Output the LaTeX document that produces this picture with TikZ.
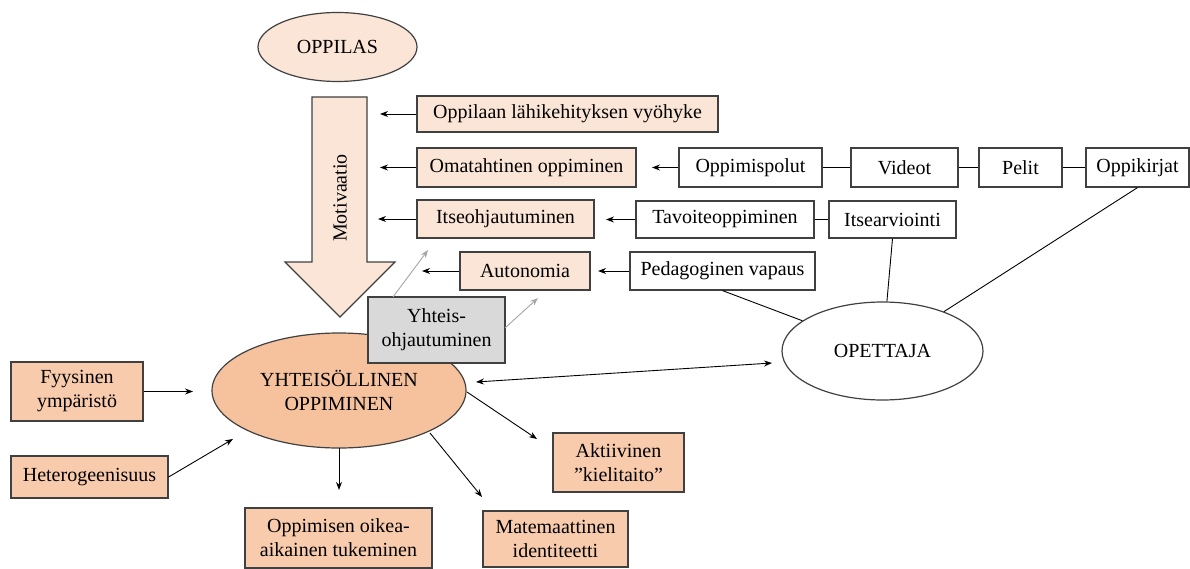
\documentclass[tikz,border=0pt]{standalone}
\usepackage{fontspec}
\setmainfont{Liberation Serif}
\usetikzlibrary{shapes.geometric,arrows.meta}
\definecolor{lightpeach}{HTML}{FBE5D6}
\definecolor{peach}{HTML}{F8CBAD}
\definecolor{ellpeach}{HTML}{F6C19D}
\definecolor{graybox}{HTML}{D9D9D9}
\definecolor{edgecol}{HTML}{404040}
\definecolor{grayarrow}{HTML}{A6A6A6}
\begin{document}
\begin{tikzpicture}[x=1pt,y=-1pt,
  font=\fontsize{20}{24}\selectfont,
  box/.style={draw=edgecol, line width=1.2pt, rectangle, inner sep=0pt, align=center},
  lbox/.style={box, fill=lightpeach},
  dbox/.style={box, fill=peach},
  wbox/.style={box, fill=white},
  ell/.style={draw=edgecol, line width=1.2pt, ellipse, inner sep=0pt, align=center},
  arr/.style={-{Stealth[length=8pt,width=6pt]}, line width=0.9pt, black},
  garr/.style={-{Stealth[length=8pt,width=6pt]}, line width=0.9pt, grayarrow},
  dbl/.style={{Stealth[length=8pt,width=6pt]}-{Stealth[length=8pt,width=6pt]}, line width=0.9pt, black},
  lnk/.style={line width=0.9pt, black},
]
\useasboundingbox (0,0) rectangle (1190,569);

% big arrow
\draw[draw=edgecol, line width=1.2pt, fill=lightpeach]
  (312,97) -- (367,97) -- (367,262) -- (395,262) -- (340,317) -- (285,262) -- (312,262) -- cycle;
\node[rotate=90] (motiv) at (340,198) {Motivaatio};

% ellipses
\node[ell, fill=lightpeach, minimum width=159pt, minimum height=69pt] (oppilas) at (337.5,47) {OPPILAS};
\node[ell, fill=ellpeach, minimum width=254pt, minimum height=115pt] (yht) at (339,390.5) {YHTEISÖLLINEN\\OPPIMINEN};
\node[ell, fill=white, minimum width=201pt, minimum height=98pt] (opettaja) at (882.5,351) {OPETTAJA};

% light boxes
\node[lbox, minimum width=301pt, minimum height=36pt] (lahi) at (567.5,114) {Oppilaan lähikehityksen vyöhyke};
\node[lbox, minimum width=219pt, minimum height=39pt] (omat) at (526.5,167.5) {Omatahtinen oppiminen};
\node[lbox, minimum width=177pt, minimum height=38pt] (itseohj) at (505.5,219) {Itseohjautuminen};
\node[lbox, minimum width=130pt, minimum height=38pt] (auto) at (525,271) {Autonomia};

% gray box
\node[box, fill=graybox, minimum width=137pt, minimum height=66pt] (yhteis) at (436.5,330) {Yhteis-\\ohjautuminen};

% white boxes
\node[wbox, minimum width=143pt, minimum height=39pt] (polut) at (750.5,167.5) {Oppimispolut};
\node[wbox, minimum width=107pt, minimum height=39pt] (videot) at (904.5,167.5) {Videot};
\node[wbox, minimum width=83pt, minimum height=39pt] (pelit) at (1020.5,167.5) {Pelit};
\node[wbox, minimum width=103pt, minimum height=39pt] (kirjat) at (1137.5,167.5) {Oppikirjat};
\node[wbox, minimum width=178pt, minimum height=37pt] (tavoite) at (725,219.5) {Tavoiteoppiminen};
\node[wbox, minimum width=127pt, minimum height=37pt] (arvio) at (892.5,219.5) {Itsearviointi};
\node[wbox, minimum width=185pt, minimum height=38pt] (pedag) at (722.5,271) {Pedagoginen vapaus};

% dark boxes
\node[dbox, minimum width=132pt, minimum height=59pt] (fyys) at (77,391.5) {Fyysinen\\ympäristö};
\node[dbox, minimum width=157pt, minimum height=42pt] (hetero) at (89.5,477) {Heterogeenisuus};
\node[dbox, minimum width=187pt, minimum height=60pt] (tuki) at (338.5,538) {Oppimisen oikea-\\aikainen tukeminen};
\node[dbox, minimum width=131pt, minimum height=59pt] (akt) at (618.5,462.5) {Aktiivinen\\”kielitaito”};
\node[dbox, minimum width=145pt, minimum height=56pt] (mate) at (555.5,539) {Matemaattinen\\identiteetti};

% free ends
\coordinate (e1) at (380,114);
\coordinate (e2) at (380,167.5);
\coordinate (e3) at (378,219);
\coordinate (e4) at (422,271);
\coordinate (e5) at (652,167.5);
\coordinate (e6) at (606,219.5);
\coordinate (e7) at (598,271);
\coordinate (g1s) at (393,297);
\coordinate (g1e) at (428,250);
\coordinate (g2s) at (505,328);
\coordinate (g2e) at (538,298);
\coordinate (dL) at (476,382);
\coordinate (dR) at (772,363);
\coordinate (f1) at (193,391.5);
\coordinate (h1) at (233,439);
\coordinate (d1s) at (339,448);
\coordinate (d1e) at (339,490);
\coordinate (a1s) at (467,392);
\coordinate (a1e) at (537,439);
\coordinate (m1s) at (430,433);
\coordinate (m1e) at (482,497);

% arrows into the big arrow
\draw[arr] (lahi.west) -- (e1);
\draw[arr] (omat.west) -- (e2);
\draw[arr] (itseohj.west) -- (e3);
\draw[arr] (auto.west) -- (e4);
\draw[arr] (polut.west) -- (e5);
\draw[arr] (tavoite.west) -- (e6);
\draw[arr] (pedag.west) -- (e7);

% links
\draw[lnk] (polut.east) -- (videot.west);
\draw[lnk] (videot.east) -- (pelit.west);
\draw[lnk] (pelit.east) -- (kirjat.west);
\draw[lnk] (tavoite.east) -- (arvio.west);
\draw[lnk] (pedag.south) -- (opettaja);
\draw[lnk] (arvio.south) -- (opettaja);
\draw[lnk] (kirjat.south) -- (opettaja);

% gray arrows
\draw[garr] (g1s) -- (g1e);
\draw[garr] (g2s) -- (g2e);

% around YHTEISÖLLINEN
\draw[dbl] (dL) -- (dR);
\draw[arr] (fyys.east) -- (f1);
\draw[arr] (hetero.east) -- (h1);
\draw[arr] (d1s) -- (d1e);
\draw[arr] (a1s) -- (a1e);
\draw[arr] (m1s) -- (m1e);
\end{tikzpicture}
\end{document}
